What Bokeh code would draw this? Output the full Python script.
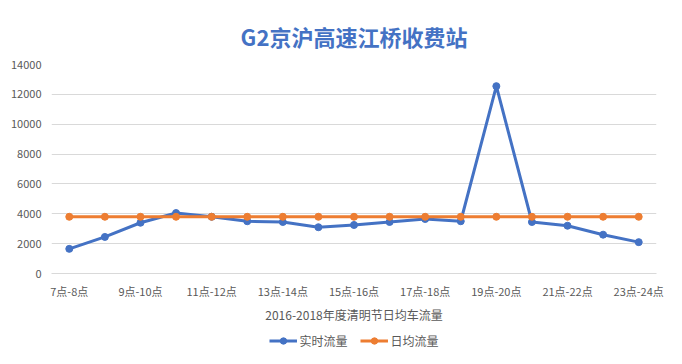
from bokeh.plotting import figure
from bokeh.layouts import column
from bokeh.models import (Range1d, FixedTicker, Legend, LegendItem, ColumnDataSource)
from bokeh.embed import file_html
from bokeh.resources import INLINE

# ---- data ----
categories = ["7点-8点", "8点-9点", "9点-10点", "10点-11点", "11点-12点", "12点-13点",
              "13点-14点", "14点-15点", "15点-16点", "16点-17点", "17点-18点", "18点-19点",
              "19点-20点", "20点-21点", "21点-22点", "22点-23点", "23点-24点"]
realtime = [1650, 2450, 3400, 4050, 3800, 3500, 3450, 3100, 3250, 3450, 3650, 3500,
            12550, 3450, 3200, 2600, 2100]
daily_avg = [3800] * len(categories)
y_ticks = [0, 2000, 4000, 6000, 8000, 10000, 12000, 14000]
title_text = "G2京沪高速江桥收费站"
x_title = "2016-2018年度清明节日均车流量"
series_names = ["实时流量", "日均流量"]

FONT = "Noto Sans CJK SC"
BLUE = "#4472C4"
ORANGE = "#ED7D31"
GRAY_TXT = "#595959"
GRID = "#d9d9d9"

xs = list(range(len(categories)))
src = ColumnDataSource(dict(x=xs, rt=realtime, avg=daily_avg))

p = figure(frame_width=605, frame_height=209,
           output_backend="svg", toolbar_location=None,
           x_range=Range1d(-0.5, len(categories) - 0.5),
           y_range=Range1d(y_ticks[0], y_ticks[-1]),
           min_border_left=51, min_border_right=10, min_border_top=64, min_border_bottom=52)
p.outline_line_color = None
p.background_fill_color = "white"
p.border_fill_color = "white"

# title
p.title.text = title_text
p.title.align = "center"
p.title.text_font = FONT
p.title.text_font_size = "22px"
p.title.text_font_style = "bold"
p.title.text_color = BLUE
p.title.standoff = 26

# axes
xa = p.xaxis[0]
xa.ticker = FixedTicker(ticks=xs[::2])
xa.major_label_overrides = {i: categories[i] for i in xs[::2]}
xa.major_tick_line_color = None
xa.minor_tick_line_color = None
xa.major_tick_out = 0
xa.major_tick_in = 0
xa.axis_line_color = GRID
xa.major_label_text_font = FONT
xa.major_label_text_font_size = "11px"
xa.major_label_text_color = GRAY_TXT
xa.major_label_standoff = 9
xa.axis_label = x_title
xa.axis_label_text_font = FONT
xa.axis_label_text_font_size = "12px"
xa.axis_label_text_font_style = "normal"
xa.axis_label_text_color = GRAY_TXT
xa.axis_label_standoff = 4

ya = p.yaxis[0]
ya.ticker = FixedTicker(ticks=y_ticks)
ya.axis_line_color = None
ya.major_tick_line_color = None
ya.minor_tick_line_color = None
ya.major_tick_out = 0
ya.major_label_text_font = FONT
ya.major_label_text_font_size = "11px"
ya.major_label_text_color = GRAY_TXT
ya.major_label_standoff = 10

p.xgrid.grid_line_color = None
p.ygrid.grid_line_color = GRID
p.ygrid.grid_line_width = 1

# series
p.line("x", "rt", source=src, line_color=BLUE, line_width=3)
p.scatter("x", "rt", source=src, size=7, fill_color=BLUE, line_color=BLUE)
p.line("x", "avg", source=src, line_color=ORANGE, line_width=3)
p.scatter("x", "avg", source=src, size=7, fill_color=ORANGE, line_color=ORANGE)

# legend strip below the chart: same series, drawn outside its view range,
# so that only the legend keys show
lg = figure(width=666, height=30, output_backend="svg", toolbar_location=None,
            x_axis_type=None, y_axis_type=None,
            x_range=Range1d(0, 1), y_range=Range1d(0, 1),
            min_border_left=18, min_border_right=0, min_border_top=0, min_border_bottom=0)
lg.outline_line_color = None
lg.xgrid.grid_line_color = None
lg.ygrid.grid_line_color = None
lg.border_fill_color = "white"
lg.background_fill_color = "white"
k1 = lg.line("x", "rt", source=src, line_color=BLUE, line_width=3)
m1 = lg.scatter("x", "rt", source=src, size=7, fill_color=BLUE, line_color=BLUE)
k2 = lg.line("x", "avg", source=src, line_color=ORANGE, line_width=3)
m2 = lg.scatter("x", "avg", source=src, size=7, fill_color=ORANGE, line_color=ORANGE)

legend = Legend(items=[LegendItem(label=series_names[0], renderers=[k1, m1]),
                       LegendItem(label=series_names[1], renderers=[k2, m2])],
                orientation="horizontal", location="center",
                label_text_font=FONT, label_text_font_size="12px",
                label_text_color=GRAY_TXT, glyph_width=28, glyph_height=16,
                label_standoff=3, spacing=12, padding=4, margin=0,
                border_line_color=None, background_fill_alpha=0)
lg.add_layout(legend)

layout = column(p, lg, spacing=0)

open("out.html", "w").write(file_html(layout, INLINE))
